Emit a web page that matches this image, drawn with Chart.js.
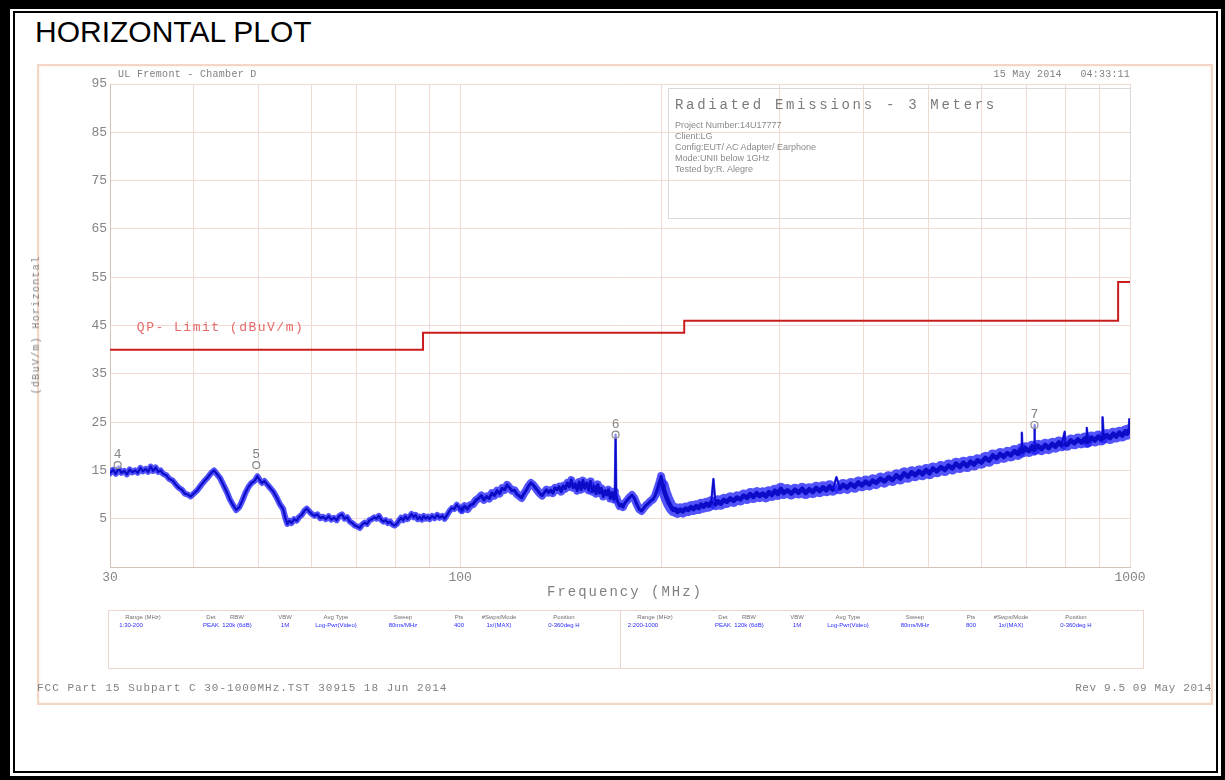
<!DOCTYPE html>
<html>
<head>
<meta charset="utf-8">
<title>Horizontal Plot</title>
<script src="https://cdn.jsdelivr.net/npm/chart.js@4.4.1/dist/chart.umd.min.js"></script>
<style>
    body { margin: 0; background: #fff; }
    #page { position: relative; width: 1225px; height: 780px; overflow: hidden; background: #fff; }
    .bar { position: absolute; background: #000; }
    .txt { position: absolute; white-space: pre; font-family: "Liberation Mono", monospace; color: #808080; line-height: 1; }
    #frame { position: absolute; left: 37px; top: 64px; width: 1172px; height: 637px; border: 2px solid #f4d6c4; box-shadow: inset 0 0 3px #f9e6db; }
    #plot { position: absolute; left: 0; top: 0; }
    #infoBox { position: absolute; left: 668px; top: 88px; width: 461px; height: 129px; border: 1px solid #d9d9d9; }
    #setupTable { position: absolute; left: 108px; top: 610px; width: 1034px; height: 57px; border: 1px solid #ecd7cc; }
    #setupTable .divider { position: absolute; left: 511px; top: 0; width: 1px; height: 57px; background: #ecd7cc; }
    .cell { position: absolute; white-space: pre; font-family: "Liberation Sans", sans-serif; font-size: 6px; line-height: 1; transform: translateX(-50%); }
</style>
</head>
<body>
<div id="page">
    <!-- double black frame -->
    <div class="bar" style="left:0;top:0;width:1225px;height:9px"></div>
    <div class="bar" style="left:13px;top:11px;width:1203px;height:2px"></div>
    <div class="bar" style="left:0;top:0;width:10px;height:780px"></div>
    <div class="bar" style="left:13px;top:11px;width:2px;height:762px"></div>
    <div class="bar" style="left:0;top:776px;width:1225px;height:4px"></div>
    <div class="bar" style="left:13px;top:771px;width:1205px;height:2px"></div>
    <div class="bar" style="left:1221px;top:0;width:4px;height:780px"></div>
    <div class="bar" style="left:1216px;top:11px;width:2px;height:762px"></div>

    <div class="txt" style="left:35px;top:17px;font-family:'Liberation Sans',Arial,sans-serif;font-size:30px;line-height:30px;color:#000">HORIZONTAL PLOT</div>

    <div id="frame"></div>
    <canvas id="plot" width="1225" height="780"></canvas>

    <div class="txt" id="siteName" style="left:118px;top:70px;font-size:10px;letter-spacing:0.3px"></div>
    <div class="txt" id="stamp" style="right:95px;top:70px;font-size:10px;letter-spacing:0.2px"></div>

    <div id="infoBox">
        <div class="txt" id="infoTitle" style="left:6px;top:9px;font-size:14px;letter-spacing:2.7px;color:#7a7a7a"></div>
        <div class="txt" id="infoLines" style="left:6px;top:31px;font-family:'Liberation Sans',sans-serif;font-size:9px;line-height:11px;color:#8a8a8a"></div>
    </div>

    <div class="txt" id="yTitle" style="left:37px;top:325px;font-size:10px;letter-spacing:1.3px;transform:translate(-50%,-50%) rotate(-90deg)"></div>
    <div class="txt" id="xTitle" style="left:625px;top:592px;font-size:14px;letter-spacing:2px;transform:translate(-50%,-50%)"></div>

    <div id="setupTable"><div class="divider"></div></div>

    <div class="txt" id="footLeft" style="left:37px;top:683px;font-size:11px;letter-spacing:1px"></div>
    <div class="txt" id="footRight" style="right:13px;top:683px;font-size:11px;letter-spacing:0.6px"></div>
</div>

<script>
// Peak trace (MHz, dBuV/m)
const freqMHz = [
    30.0, 30.3, 30.6, 30.9, 31.2, 31.5, 31.8, 32.1, 32.4, 32.7, 33.0, 33.3, 33.6, 33.9, 34.2, 34.5, 34.8, 35.1, 35.4, 35.7,
    36.0, 36.4, 36.8, 37.2, 37.6, 38.0, 38.4, 38.8, 39.2, 39.6,
    40.0, 40.5, 41.0, 41.5, 42.0, 42.5, 42.9, 43.3,
    43.8, 44.3, 44.8, 45.3, 45.8, 46.3, 46.8,
    47.3, 47.8, 48.3, 48.8, 49.3, 49.8, 50.2, 50.6, 51.0, 51.5,
    52.0, 52.6, 53.2, 53.8, 54.4, 54.8, 55.2, 55.6, 56.0, 56.5, 57.0, 57.5, 58.0, 58.5, 59.0, 59.5,
    60.0, 60.6, 61.2, 61.8, 62.4, 63.0, 63.6, 64.2, 64.8, 65.4, 66.0, 66.6, 67.2, 67.8, 68.4, 69.0, 69.6,
    70.2, 70.8, 71.4, 72.0, 72.6, 73.2, 73.8, 74.4, 75.0, 75.6, 76.2, 76.8, 77.4, 78.0, 78.6, 79.2, 79.8,
    80.4, 81.0, 81.6, 82.2, 82.8, 83.4, 84.0, 84.6, 85.2, 85.8, 86.4, 87.0, 87.6, 88.2, 88.8, 89.4,
    90.0, 90.8, 91.6, 92.4, 93.2, 94.0, 94.8, 95.6, 96.4, 97.2, 98.0, 98.8, 99.6,
    100.5, 101.5, 102.5, 103.5, 104.5, 105.5, 106.5, 107.5, 108.5, 109.5, 110.5, 111.5, 112.5, 113.5, 114.5,
    115.5, 116.5, 117.5, 118.5, 119.5, 120.5, 121.5, 122.5, 123.5, 124.5, 125.5, 126.5, 127.5, 128.5, 129.5,
    130.5, 131.5, 132.5, 133.5, 134.5, 135.5, 136.5, 137.5, 138.5, 139.5, 140.5, 141.5, 142.5, 143.5, 144.5,
    145.5, 146.5, 147.5, 148.5, 149.5, 150.5, 151.5, 152.5, 153.5, 154.5, 155.5, 156.5, 157.5, 158.5, 159.5,
    160.5, 161.5, 162.5, 163.5, 164.5, 165.5, 166.5, 167.5, 168.5, 169.5, 170.2, 170.6, 171.0,
    172.0, 173.0, 174.0, 175.0, 176.0, 177.5, 179.0, 180.5, 182.0, 183.5, 185.0, 186.5, 188.0, 189.5,
    191.0, 192.5, 194.0, 195.5, 197.0, 198.5, 199.5, 200.5, 202.0, 203.5, 205.0, 206.5, 208.0, 209.5,
    211.0, 213.0, 215.0, 217.0, 219.0, 221.0, 223.0, 225.0, 227.0, 229.0, 231.0, 233.0, 235.0, 237.0, 238.8,
    240.5, 242.5, 245.0, 247.5, 250.0, 253.0, 256.0, 259.0, 262.0, 265.0, 268.0, 271.0, 274.0, 277.0, 280.0,
    283.0, 286.0, 289.0, 292.0, 295.0, 298.0, 301.0, 304.0, 308.0, 312.0, 316.0, 320.0, 324.0, 328.0, 332.0,
    336.0, 340.0, 344.0, 348.0, 352.0, 356.0, 360.0, 364.5, 369.0, 373.0, 378.0, 383.0, 388.0, 393.0, 398.0,
    403.0, 408.0, 413.0, 418.0, 424.0, 430.0, 436.0, 442.0, 448.0, 454.0, 460.0, 466.0, 472.0, 478.0, 484.0,
    490.0, 496.0, 502.0, 508.0, 515.0, 522.0, 529.0, 536.0, 543.0, 550.0, 557.0, 564.0, 571.0, 578.0, 585.0,
    592.0, 600.0, 608.0, 616.0, 624.0, 632.0, 640.0, 648.0, 656.0, 664.0, 672.0, 680.0, 688.0, 689.5, 691.0,
    698.0, 706.0, 714.0, 719.0, 720.0, 721.0, 729.0, 738.0, 747.0, 756.0, 765.0, 774.0, 783.0, 790.0, 799.0,
    801.0, 806.0, 816.0, 826.0, 836.0, 846.0, 856.0, 861.0, 862.0, 866.0, 876.0, 886.0, 896.0, 906.0, 909.0,
    910.0, 914.0, 924.0, 934.0, 944.0, 954.0, 964.0, 974.0, 984.0, 990.0, 996.0, 997.5, 1000.0
];
const levelDb = [
    14.4, 15.1, 14.3, 15.4, 14.5, 14.9, 14.2, 15.2, 14.6, 15.0, 14.5, 15.5, 14.8, 15.3, 14.7, 15.8, 14.9, 15.6, 14.7, 15.0,
    14.3, 14.0, 13.2, 12.9, 12.1, 11.4, 11.0, 10.2, 10.0, 9.6,
    10.2, 10.9, 11.9, 12.8, 13.6, 14.5, 15.0, 14.3,
    13.4, 12.0, 10.6, 9.0, 7.8, 6.8, 7.4,
    8.8, 10.4, 11.6, 12.4, 12.8, 13.8, 13.0, 12.4, 12.8, 12.1,
    11.4, 10.6, 9.4, 8.0, 7.0, 5.2, 3.9, 4.6, 4.1, 4.9, 4.6, 5.4, 5.8, 6.6, 7.1, 6.5,
    6.0, 5.6, 5.9, 5.1, 5.4, 4.9, 5.5, 4.8, 5.2, 4.7, 5.6, 5.9, 5.0, 5.3, 4.4, 4.1, 3.6,
    3.4, 3.1, 3.8, 4.2, 3.9, 4.7, 4.9, 5.3, 5.0, 5.6, 4.8, 4.4, 4.7, 4.1, 4.4, 3.8, 3.6,
    3.9, 4.6, 5.2, 4.7, 5.5, 4.9, 5.4, 6.0, 5.3, 5.8, 4.9, 5.4, 4.8, 5.6, 5.0, 5.4,
    4.9, 5.6, 5.1, 5.8, 5.2, 5.6, 5.0, 5.8, 6.6, 7.2, 7.0, 7.9, 7.3,
    6.8, 7.6, 7.0, 7.8, 8.0, 8.8, 9.2, 9.8, 8.9, 9.6, 9.2, 10.3, 9.8, 10.8, 10.2,
    11.3, 11.0, 12.0, 11.4, 10.8, 10.9, 10.1, 9.7, 9.3, 10.2, 10.9, 11.8, 12.4, 12.0, 11.4,
    10.8, 10.2, 9.8, 10.4, 11.0, 10.4, 10.9, 10.3, 11.4, 11.0, 11.6, 10.6, 11.8, 11.2, 12.4,
    11.6, 13.0, 11.4, 12.2, 10.8, 12.6, 11.0, 12.9, 11.3, 12.4, 10.9, 12.7, 10.6, 11.8, 10.2,
    12.1, 10.3, 11.3, 9.6, 10.8, 9.9, 11.0, 9.2, 10.4, 9.0, 10.6, 22.4, 9.4,
    8.4, 7.6, 8.0, 7.4, 8.2, 8.8, 9.4, 9.9, 9.2, 8.0, 7.0, 6.6, 7.2, 7.8,
    8.2, 8.7, 9.0, 9.8, 11.2, 12.6, 13.8, 12.0, 10.4, 9.2, 8.2, 7.4, 6.8, 7.0,
    6.4, 6.9, 6.5, 7.1, 6.8, 7.4, 7.0, 7.6, 7.2, 7.9, 7.5, 8.1, 7.7, 8.4, 13.2,
    8.0, 8.6, 8.1, 8.9, 8.5, 9.2, 8.7, 9.4, 9.0, 9.8, 9.3, 10.1, 9.5, 10.3, 9.7,
    10.2, 9.6, 10.5, 9.9, 10.8, 10.1, 11.2, 10.3, 10.9, 10.2, 11.0, 10.4, 11.2, 10.3, 11.1,
    10.5, 11.4, 10.7, 11.5, 10.9, 11.7, 11.0, 13.6, 11.3, 12.0, 11.4, 12.2, 11.6, 12.5, 11.9,
    12.7, 12.1, 12.9, 12.4, 13.3, 12.7, 13.6, 13.0, 14.0, 13.3, 14.4, 13.7, 14.6, 14.0, 14.8,
    14.2, 15.1, 14.4, 15.4, 14.8, 15.7, 15.1, 16.0, 15.4, 16.4, 15.7, 16.6, 15.9, 16.8, 16.2,
    17.1, 16.6, 17.6, 17.0, 18.1, 17.5, 18.4, 17.8, 18.6, 18.1, 19.0, 18.4, 19.4, 22.8, 18.9,
    19.6, 19.0, 19.9, 19.3, 24.4, 19.5, 20.1, 19.4, 20.3, 19.6, 20.5, 19.9, 20.8, 20.2, 23.0,
    20.4, 20.3, 21.2, 20.6, 21.4, 20.8, 21.6, 20.9, 23.8, 21.0, 21.8, 21.2, 22.0, 21.4, 21.6,
    26.0, 21.8, 22.3, 21.7, 22.6, 22.0, 22.8, 22.2, 23.1, 22.6, 23.3, 25.6, 23.0
];

// QP limit, FCC Part 15 Class B at 3 m
const limitFreq = [30, 88, 88, 216, 216, 960, 960, 1000];
const limitDb = [40, 40, 43.5, 43.5, 46, 46, 54, 54];

// marked peaks
const markerNames = ['4', '5', '6', '7'];
const markerFreq = [30.8, 49.6, 170.6, 720];
const markerDb = [16.1, 16.1, 22.4, 24.4];

// axes
const yTicks = [-5, 5, 15, 25, 35, 45, 55, 65, 75, 85, 95];
const xGrid = [30, 40, 50, 60, 70, 80, 90, 100, 200, 300, 400, 500, 600, 700, 800, 900, 1000];
const xLabeled = [30, 100, 1000];

// texts on the sheet
const siteName = 'UL Fremont - Chamber D';
const stamp = '15 May 2014   04:33:11';
const infoTitle = 'Radiated Emissions - 3 Meters';
const infoLines = ['Project Number:14U17777', 'Client:LG', 'Config:EUT/ AC Adapter/ Earphone', 'Mode:UNII below 1GHz', 'Tested by:R. Alegre'];
const yTitle = '(dBuV/m) Horizontal';
const xTitle = 'Frequency (MHz)';
const limitName = 'QP- Limit (dBuV/m)';
const footLeft = 'FCC Part 15 Subpart C 30-1000MHz.TST 30915 18 Jun 2014';
const footRight = 'Rev 9.5 09 May 2014';

// receiver setup table
const setupHeaders = ['Range (MHz)', 'Det', 'RBW', 'VBW', 'Avg Type', 'Sweep', 'Pts', '#Swps/Mode', 'Position'];
const setupRange1 = ['1:30-200', 'PEAK', '120k (6dB)', '1M', 'Log-Pwr(Video)', '80ms/MHz', '400', '1x/(MAX)', '0-360deg H'];
const setupRange2 = ['2:200-1000', 'PEAK', '120k (6dB)', '1M', 'Log-Pwr(Video)', '80ms/MHz', '800', '1x/(MAX)', '0-360deg H'];

// fill the html text
document.getElementById('siteName').textContent = siteName;
document.getElementById('stamp').textContent = stamp;
document.getElementById('infoTitle').textContent = infoTitle;
document.getElementById('infoLines').textContent = infoLines.join('\n');
document.getElementById('yTitle').textContent = yTitle;
document.getElementById('xTitle').textContent = xTitle;
document.getElementById('footLeft').textContent = footLeft;
document.getElementById('footRight').textContent = footRight;

const table = document.getElementById('setupTable');
const colCenters = [34, 102, 128, 176, 227, 294, 350, 390, 455];
[setupRange1, setupRange2].forEach((row, half) => {
    const x0 = half * 512;
    setupHeaders.forEach((h, i) => {
        const head = document.createElement('div');
        head.className = 'cell';
        head.style.left = (x0 + colCenters[i]) + 'px';
        head.style.top = '3px';
        head.style.color = '#6f6f6f';
        head.textContent = h;
        table.appendChild(head);

        const val = document.createElement('div');
        val.className = 'cell';
        val.style.left = (x0 + (i === 0 ? 22 : colCenters[i])) + 'px';
        val.style.top = '11px';
        val.style.color = '#2b2bff';
        val.textContent = row[i];
        table.appendChild(val);
    });
});

// chart data
const tracePoints = freqMHz.map((f, i) => ({ x: f, y: levelDb[i] }));
const limitPoints = limitFreq.map((f, i) => ({ x: f, y: limitDb[i] }));
const markerPoints = markerFreq.map((f, i) => ({ x: f, y: markerDb[i] }));

// trace gets fuzzier with frequency; narrow spikes stay thin
const isSpike = (c) => Math.abs(c.p1.parsed.y - c.p0.parsed.y) > 2.0;
const haloWidth = (c) => (isSpike(c) ? 2.5 : c.p0.parsed.x < 100 ? 6 : c.p0.parsed.x < 200 ? 8 : 12);
const coreWidth = (c) => (isSpike(c) ? 1.6 : c.p0.parsed.x < 100 ? 2.2 : c.p0.parsed.x < 200 ? 3 : 4.5);

// marker numbers and the limit caption
const labelPlugin = {
    id: 'plotLabels',
    afterDatasetsDraw(chart) {
        const ctx = chart.ctx;
        const meta = chart.getDatasetMeta(0);
        ctx.save();
        ctx.font = '13px "Liberation Mono", monospace';
        ctx.fillStyle = '#858585';
        ctx.textAlign = 'center';
        ctx.textBaseline = 'alphabetic';
        meta.data.forEach((pt, i) => {
            ctx.fillText(markerNames[i], pt.x, pt.y - 7);
        });
        const lx = chart.scales.x.getPixelForValue(32.9);
        const ly = chart.scales.y.getPixelForValue(44.5);
        ctx.letterSpacing = '1.5px';
        ctx.fillStyle = '#e46a6a';
        ctx.textAlign = 'left';
        ctx.textBaseline = 'middle';
        ctx.fillText(limitName, lx, ly);
        ctx.restore();
    }
};

const tickFont = { family: '"Liberation Mono", monospace', size: 13 };

new Chart(document.getElementById('plot'), {
    type: 'line',
    data: {
        datasets: [
            {
                label: 'Markers',
                data: markerPoints,
                showLine: false,
                pointStyle: 'circle',
                pointRadius: 3.5,
                pointBorderWidth: 1.2,
                pointBorderColor: '#8a8a8a',
                pointBackgroundColor: 'rgba(255,255,255,0.5)',
            },
            {
                label: 'QP Limit',
                data: limitPoints,
                borderColor: '#c91c1c',
                borderWidth: 2,
                pointRadius: 0,
            },
            {
                label: 'Peak',
                data: tracePoints,
                borderColor: 'rgb(12,12,200)',
                borderWidth: 2,
                borderJoinStyle: 'round',
                borderCapStyle: 'round',
                pointRadius: 0,
                segment: { borderWidth: coreWidth },
            },
            {
                label: 'Peak halo',
                data: tracePoints,
                borderColor: 'rgba(35,35,250,0.78)',
                borderWidth: 6,
                borderJoinStyle: 'round',
                borderCapStyle: 'round',
                pointRadius: 0,
                segment: { borderWidth: haloWidth },
            },
        ],
    },
    options: {
        responsive: false,
        animation: false,
        events: [],
        layout: { padding: { left: 0, top: 84, right: 95, bottom: 183 } },
        plugins: { legend: { display: false }, tooltip: { enabled: false } },
        elements: { line: { tension: 0 } },
        scales: {
            x: {
                type: 'logarithmic',
                min: 30,
                max: 1000,
                afterBuildTicks: (axis) => {
                    axis.ticks = xGrid.map((v) => ({ value: v }));
                },
                afterFit: (axis) => {
                    axis.height = 30;
                },
                ticks: {
                    autoSkip: false,
                    maxRotation: 0,
                    padding: 3,
                    color: '#858585',
                    font: tickFont,
                    callback: (v) => (xLabeled.includes(v) ? String(v) : ''),
                },
                grid: { color: '#efdbd1', drawTicks: false },
                border: { color: '#d6c1b7' },
            },
            y: {
                type: 'linear',
                min: -5,
                max: 95,
                afterBuildTicks: (axis) => {
                    axis.ticks = yTicks.map((v) => ({ value: v }));
                },
                afterFit: (axis) => {
                    axis.width = 110;
                },
                ticks: {
                    padding: 3,
                    color: '#858585',
                    font: tickFont,
                    callback: (v) => (v < 0 ? '' : String(v)),
                },
                grid: { color: '#efdbd1', drawTicks: false },
                border: { color: '#d6c1b7' },
            },
        },
    },
    plugins: [labelPlugin],
});
</script>
</body>
</html>
